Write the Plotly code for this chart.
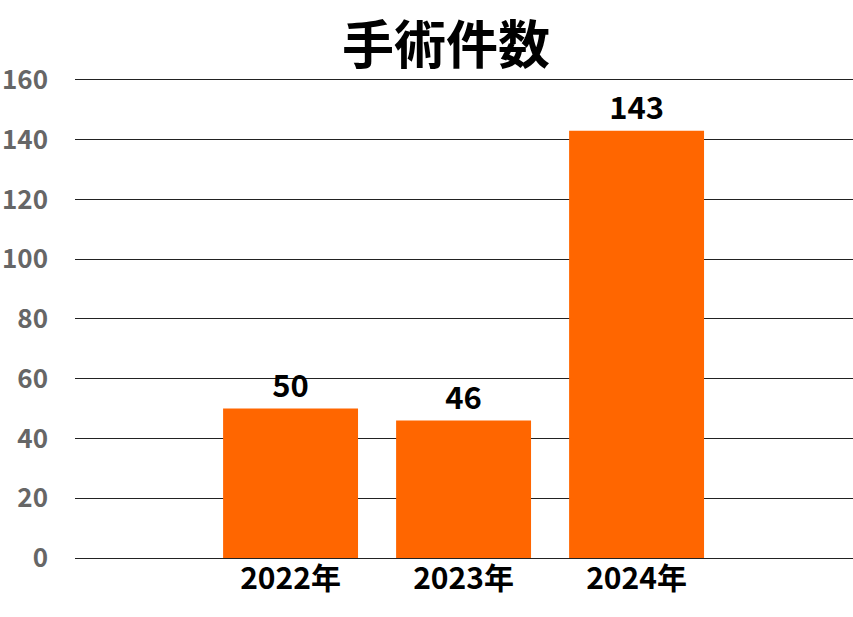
import plotly.graph_objects as go

categories = ["2022年", "2023年", "2024年"]
values = [50, 46, 143]
y_ticks = [0, 20, 40, 60, 80, 100, 120, 140, 160]

FONT = "Noto Sans CJK JP"

fig = go.Figure(
    go.Bar(
        x=list(range(len(categories))),
        y=values,
        width=0.78,
        marker=dict(color="#FF6600", line=dict(width=0)),
        text=["<b>%d</b>" % v for v in values],
        textposition="outside",
        cliponaxis=False,
        textfont=dict(family=FONT, size=31, color="#000000"),
    )
)

fig.update_layout(
    width=853,
    height=617,
    margin=dict(l=75, r=0, t=77, b=59, autoexpand=False),
    paper_bgcolor="white",
    plot_bgcolor="white",
    showlegend=False,
    title=dict(
        text="<b>手術件数</b>",
        x=0.523,
        xanchor="center",
        y=0.925,
        yanchor="middle",
        font=dict(family=FONT, size=52, color="#000000"),
    ),
    xaxis=dict(
        range=[-1.246, 3.251],
        tickmode="array",
        tickvals=list(range(len(categories))),
        ticktext=["<b>%s</b>" % c for c in categories],
        tickfont=dict(family=FONT, size=30, color="#000000"),
        showgrid=False,
        zeroline=False,
        showline=False,
        ticks="",
        automargin=False,
    ),
    yaxis=dict(
        range=[0, 161],
        tickmode="array",
        tickvals=y_ticks,
        ticktext=["<b>%d</b>" % v for v in y_ticks],
        tickfont=dict(family=FONT, size=26, color="#666666"),
        showgrid=True,
        gridcolor="#222222",
        gridwidth=1.3,
        zeroline=True,
        zerolinecolor="#222222",
        zerolinewidth=1.3,
        showline=False,
        ticks="",
        ticklabelstandoff=26,
        automargin=False,
    ),
)

fig.write_html(
    "out.html",
    config={"displayModeBar": False},
    post_script="document.body.style.margin='0';document.body.style.overflow='hidden';",
)
